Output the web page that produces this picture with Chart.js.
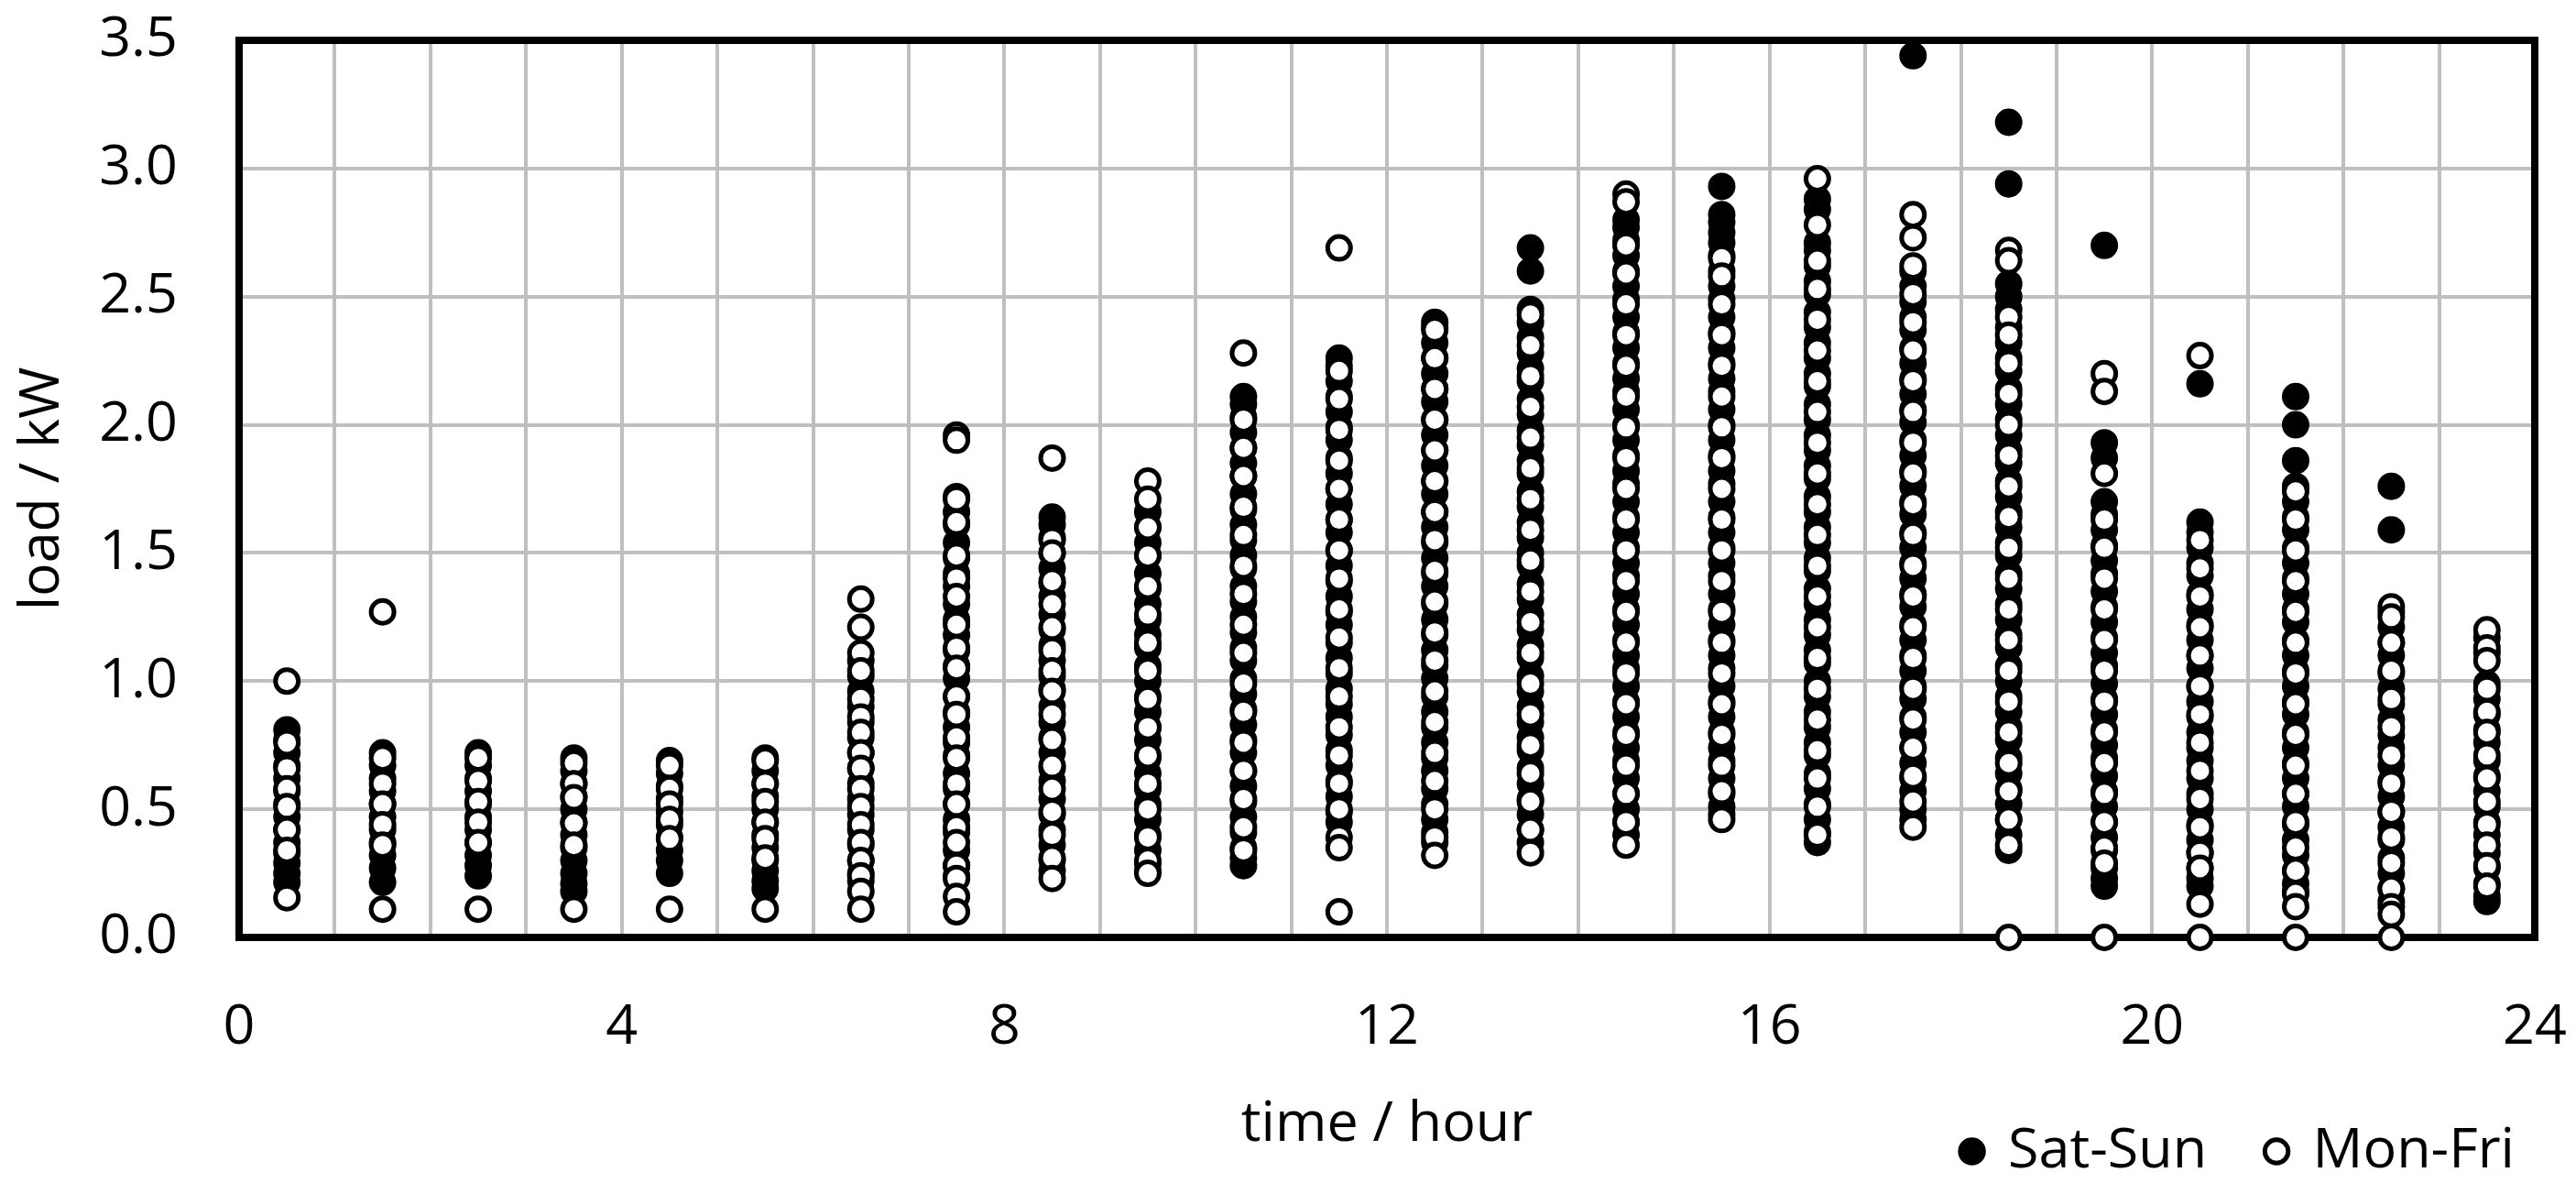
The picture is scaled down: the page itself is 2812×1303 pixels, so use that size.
<!DOCTYPE html>
<html>
<head>
<meta charset="utf-8">
<script src="https://cdn.jsdelivr.net/npm/chart.js@4.4.1/dist/chart.umd.min.js"></script>
<style>
  html, body { margin: 0; padding: 0; background: #fff; }
</style>
</head>
<body>
<canvas id="graficoCarga" width="2812" height="1303"></canvas>
<script>
// horas (centro de cada intervalo) e rótulos dos eixos
const horas = [0.5, 1.5, 2.5, 3.5, 4.5, 5.5, 6.5, 7.5, 8.5, 9.5, 10.5, 11.5,
               12.5, 13.5, 14.5, 15.5, 16.5, 17.5, 18.5, 19.5, 20.5, 21.5, 22.5, 23.5];
const xTickLabels = [0, 4, 8, 12, 16, 20, 24];
const yTickLabels = ["0.0", "0.5", "1.0", "1.5", "2.0", "2.5", "3.0", "3.5"];

// Mon-Fri (círculos abertos), uma lista por hora
const cargaSemana = [
  [1.00, 0.76, 0.66, 0.58, 0.51, 0.42, 0.34, 0.155],
  [1.27, 0.70, 0.60, 0.52, 0.44, 0.36, 0.11],
  [0.70, 0.61, 0.53, 0.45, 0.37, 0.11],
  [0.68, 0.60, 0.545, 0.445, 0.36, 0.11],
  [0.67, 0.58, 0.52, 0.46, 0.385, 0.11],
  [0.69, 0.60, 0.53, 0.45, 0.385, 0.31, 0.11],
  [1.32, 1.21, 1.11, 1.04, 0.93, 0.86, 0.80, 0.72, 0.66, 0.58, 0.51, 0.44, 0.37, 0.30, 0.24, 0.18, 0.11],
  [1.96, 1.94, 1.71, 1.62, 1.49, 1.40, 1.33, 1.22, 1.13, 1.05, 0.94, 0.87, 0.78, 0.70, 0.60, 0.52, 0.43, 0.37, 0.28, 0.23, 0.16, 0.10],
  [1.87, 1.55, 1.50, 1.39, 1.30, 1.21, 1.12, 1.04, 0.96, 0.87, 0.77, 0.67, 0.58, 0.49, 0.40, 0.31, 0.23],
  [1.78, 1.71, 1.60, 1.49, 1.37, 1.26, 1.15, 1.04, 0.93, 0.82, 0.71, 0.60, 0.50, 0.39, 0.30, 0.25],
  [2.28, 2.02, 1.91, 1.80, 1.68, 1.57, 1.45, 1.34, 1.22, 1.11, 0.99, 0.88, 0.76, 0.65, 0.54, 0.43, 0.34],
  [2.69, 2.21, 2.10, 1.98, 1.86, 1.75, 1.63, 1.51, 1.40, 1.28, 1.17, 1.05, 0.94, 0.82, 0.71, 0.60, 0.50, 0.39, 0.35, 0.10],
  [2.37, 2.26, 2.14, 2.02, 1.90, 1.78, 1.66, 1.55, 1.43, 1.31, 1.19, 1.08, 0.96, 0.84, 0.72, 0.61, 0.50, 0.39, 0.32],
  [2.43, 2.31, 2.19, 2.07, 1.95, 1.83, 1.71, 1.59, 1.47, 1.35, 1.23, 1.11, 0.99, 0.87, 0.75, 0.64, 0.53, 0.42, 0.33],
  [2.90, 2.87, 2.70, 2.59, 2.47, 2.35, 2.23, 2.11, 1.99, 1.87, 1.75, 1.63, 1.51, 1.39, 1.27, 1.15, 1.03, 0.91, 0.79, 0.67, 0.56, 0.45, 0.36],
  [2.65, 2.58, 2.47, 2.35, 2.23, 2.11, 1.99, 1.87, 1.75, 1.63, 1.51, 1.39, 1.27, 1.15, 1.03, 0.91, 0.79, 0.67, 0.57, 0.46],
  [2.96, 2.78, 2.64, 2.53, 2.41, 2.29, 2.17, 2.05, 1.93, 1.81, 1.69, 1.57, 1.45, 1.33, 1.21, 1.09, 0.97, 0.85, 0.73, 0.62, 0.51, 0.40],
  [2.82, 2.73, 2.62, 2.51, 2.40, 2.29, 2.17, 2.05, 1.93, 1.81, 1.69, 1.57, 1.45, 1.33, 1.21, 1.09, 0.97, 0.85, 0.74, 0.63, 0.53, 0.43],
  [2.68, 2.64, 2.42, 2.35, 2.24, 2.12, 2.00, 1.88, 1.76, 1.64, 1.52, 1.40, 1.28, 1.16, 1.04, 0.92, 0.80, 0.68, 0.57, 0.46, 0.36, 0.00],
  [2.20, 2.13, 1.81, 1.63, 1.52, 1.40, 1.28, 1.16, 1.04, 0.92, 0.80, 0.68, 0.56, 0.45, 0.35, 0.29, 0.00],
  [2.27, 1.55, 1.44, 1.33, 1.21, 1.10, 0.98, 0.87, 0.76, 0.65, 0.54, 0.43, 0.33, 0.27, 0.13, 0.00],
  [1.74, 1.63, 1.51, 1.39, 1.27, 1.15, 1.03, 0.91, 0.79, 0.67, 0.56, 0.45, 0.35, 0.26, 0.17, 0.12, 0.00],
  [1.29, 1.25, 1.15, 1.04, 0.93, 0.82, 0.71, 0.60, 0.49, 0.39, 0.29, 0.19, 0.12, 0.09, 0.00],
  [1.20, 1.13, 1.08, 0.97, 0.88, 0.80, 0.71, 0.62, 0.53, 0.44, 0.36, 0.28, 0.20]
];

// Sat-Sun (círculos cheios), uma lista por hora
const cargaFimSemana = [
  [0.81, 0.77, 0.72, 0.67, 0.62, 0.57, 0.52, 0.47, 0.42, 0.37, 0.33, 0.29, 0.25, 0.215],
  [0.72, 0.67, 0.62, 0.57, 0.52, 0.47, 0.42, 0.37, 0.32, 0.27, 0.215],
  [0.72, 0.67, 0.62, 0.57, 0.52, 0.47, 0.42, 0.37, 0.32, 0.28, 0.24],
  [0.70, 0.65, 0.60, 0.55, 0.50, 0.45, 0.40, 0.35, 0.30, 0.25, 0.21, 0.18],
  [0.69, 0.64, 0.59, 0.54, 0.49, 0.44, 0.39, 0.34, 0.30, 0.25],
  [0.70, 0.65, 0.60, 0.55, 0.50, 0.45, 0.40, 0.35, 0.30, 0.26, 0.22, 0.19],
  [1.08, 1.02, 0.96, 0.90, 0.84, 0.78, 0.72, 0.66, 0.60, 0.54, 0.48, 0.42, 0.36, 0.30, 0.25, 0.22],
  [1.72, 1.66, 1.61, 1.54, 1.48, 1.42, 1.37, 1.30, 1.24, 1.18, 1.12, 1.06, 1.01, 0.94, 0.88, 0.82, 0.76, 0.71,
   0.64, 0.58, 0.52, 0.46, 0.41, 0.34, 0.28, 0.24],
  [1.64, 1.61, 1.56, 1.50, 1.44, 1.38, 1.33, 1.26, 1.20, 1.14, 1.08, 1.02, 0.97, 0.90, 0.84, 0.78, 0.72, 0.66,
   0.61, 0.54, 0.48, 0.42, 0.36, 0.30, 0.26],
  [1.66, 1.60, 1.54, 1.49, 1.42, 1.36, 1.30, 1.24, 1.18, 1.13, 1.06, 1.00, 0.94, 0.88, 0.82, 0.77, 0.70, 0.64,
   0.58, 0.52, 0.46, 0.40, 0.34, 0.29, 0.26],
  [2.11, 2.08, 2.03, 1.97, 1.91, 1.85, 1.80, 1.73, 1.67, 1.61, 1.55, 1.49, 1.44, 1.37, 1.31, 1.25, 1.19, 1.13,
   1.08, 1.01, 0.95, 0.89, 0.83, 0.77, 0.72, 0.65, 0.59, 0.53, 0.47, 0.41, 0.35, 0.31, 0.28],
  [2.26, 2.23, 2.17, 2.11, 2.05, 1.99, 1.94, 1.87, 1.81, 1.75, 1.69, 1.63, 1.58, 1.51, 1.45, 1.39, 1.33, 1.27,
   1.22, 1.15, 1.09, 1.03, 0.97, 0.91, 0.86, 0.79, 0.73, 0.67, 0.61, 0.55, 0.49, 0.45],
  [2.40, 2.38, 2.32, 2.26, 2.20, 2.14, 2.09, 2.02, 1.96, 1.90, 1.84, 1.78, 1.73, 1.66, 1.60, 1.54, 1.48, 1.42,
   1.37, 1.30, 1.24, 1.18, 1.12, 1.06, 1.01, 0.94, 0.88, 0.82, 0.76, 0.70, 0.65, 0.58, 0.52, 0.46, 0.41, 0.37],
  [2.69, 2.60, 2.45, 2.40, 2.34, 2.28, 2.22, 2.17, 2.10, 2.04, 1.98, 1.92, 1.86, 1.81, 1.74, 1.68, 1.62, 1.56,
   1.50, 1.45, 1.38, 1.32, 1.26, 1.20, 1.14, 1.09, 1.02, 0.96, 0.90, 0.84, 0.78, 0.73, 0.66, 0.60, 0.54, 0.48,
   0.42, 0.37],
  [2.80, 2.77, 2.72, 2.66, 2.60, 2.54, 2.49, 2.42, 2.36, 2.30, 2.24, 2.18, 2.13, 2.06, 2.00, 1.94, 1.88, 1.82,
   1.77, 1.70, 1.64, 1.58, 1.52, 1.46, 1.41, 1.34, 1.28, 1.22, 1.16, 1.10, 1.05, 0.98, 0.92, 0.86, 0.80, 0.74,
   0.69, 0.62, 0.56, 0.50, 0.45, 0.40],
  [2.93, 2.82, 2.79, 2.75, 2.71, 2.66, 2.60, 2.54, 2.49, 2.42, 2.36, 2.30, 2.24, 2.18, 2.13, 2.06, 2.00, 1.94,
   1.88, 1.82, 1.77, 1.70, 1.64, 1.58, 1.52, 1.46, 1.41, 1.34, 1.28, 1.22, 1.16, 1.10, 1.05, 0.98, 0.92, 0.86,
   0.80, 0.74, 0.69, 0.62, 0.56, 0.51, 0.48],
  [2.88, 2.84, 2.71, 2.68, 2.62, 2.56, 2.51, 2.44, 2.38, 2.32, 2.26, 2.20, 2.15, 2.08, 2.02, 1.96, 1.90, 1.84,
   1.79, 1.72, 1.66, 1.60, 1.54, 1.48, 1.43, 1.36, 1.30, 1.24, 1.18, 1.12, 1.07, 1.00, 0.94, 0.88, 0.82, 0.76,
   0.71, 0.64, 0.58, 0.52, 0.46, 0.41, 0.37],
  [3.44, 2.60, 2.54, 2.48, 2.42, 2.37, 2.30, 2.24, 2.18, 2.12, 2.06, 2.01, 1.94, 1.88, 1.82, 1.76, 1.70, 1.65,
   1.58, 1.52, 1.46, 1.40, 1.34, 1.29, 1.22, 1.16, 1.10, 1.04, 0.98, 0.93, 0.86, 0.80, 0.74, 0.68, 0.62, 0.57,
   0.50, 0.46],
  [3.18, 2.94, 2.55, 2.50, 2.45, 2.38, 2.32, 2.26, 2.21, 2.14, 2.08, 2.02, 1.96, 1.90, 1.85, 1.78, 1.72, 1.66,
   1.60, 1.54, 1.49, 1.42, 1.36, 1.30, 1.24, 1.18, 1.13, 1.06, 1.00, 0.94, 0.88, 0.82, 0.77, 0.70, 0.64, 0.58,
   0.52, 0.46, 0.40, 0.34],
  [2.70, 1.93, 1.87, 1.70, 1.65, 1.59, 1.53, 1.47, 1.42, 1.35, 1.29, 1.23, 1.17, 1.11, 1.06, 0.99, 0.93, 0.87,
   0.81, 0.75, 0.70, 0.63, 0.57, 0.51, 0.45, 0.39, 0.34, 0.27, 0.23, 0.20],
  [2.16, 1.62, 1.58, 1.52, 1.46, 1.41, 1.34, 1.28, 1.22, 1.16, 1.10, 1.05, 0.98, 0.92, 0.86, 0.80, 0.74, 0.69,
   0.62, 0.56, 0.50, 0.44, 0.38, 0.33, 0.27, 0.23, 0.20],
  [2.11, 2.00, 1.86, 1.76, 1.70, 1.64, 1.59, 1.52, 1.46, 1.40, 1.34, 1.28, 1.23, 1.16, 1.10, 1.04, 0.98, 0.92,
   0.87, 0.80, 0.74, 0.68, 0.62, 0.56, 0.51, 0.44, 0.38, 0.32, 0.26, 0.21, 0.18],
  [1.76, 1.59, 1.27, 1.21, 1.15, 1.10, 1.03, 0.97, 0.91, 0.85, 0.79, 0.74, 0.67, 0.61, 0.55, 0.49, 0.43, 0.38,
   0.31, 0.25, 0.19, 0.14],
  [1.17, 1.11, 0.99, 0.93, 0.87, 0.81, 0.76, 0.69, 0.63, 0.57, 0.51, 0.45, 0.40, 0.33, 0.27, 0.21, 0.16, 0.14]
];

function montarPontos(listas) {
    return horas.flatMap((h, i) => listas[i].map(v => ({ x: h, y: v })));
}

const FONTE = "'Open Sans', 'DejaVu Sans', sans-serif";
const COR_GRADE = "#BFBFBF";

Chart.defaults.font.family = FONTE;
Chart.defaults.color = "#000";

// moldura preta em volta da área do gráfico (desenhada antes dos pontos)
const molduraPlugin = {
    id: "moldura",
    beforeDatasetsDraw(chart) {
        const { ctx, chartArea: a } = chart;
        ctx.save();
        ctx.strokeStyle = "#000";
        ctx.lineWidth = 8;
        ctx.strokeRect(a.left, a.top, a.right - a.left, a.bottom - a.top);
        ctx.restore();
    }
};

const ctx = document.getElementById("graficoCarga");

new Chart(ctx, {
    type: "scatter",
    data: {
        datasets: [
            {
                // primeiro dataset fica por cima dos outros
                label: "Mon-Fri",
                data: montarPontos(cargaSemana),
                pointStyle: "circle",
                pointRadius: 12.5,
                pointHoverRadius: 12.5,
                pointBorderWidth: 5,
                pointBackgroundColor: "#fff",
                pointBorderColor: "#000",
                clip: false
            },
            {
                label: "Sat-Sun",
                data: montarPontos(cargaFimSemana),
                pointStyle: "circle",
                pointRadius: 12.5,
                pointHoverRadius: 12.5,
                pointBorderWidth: 5,
                pointBackgroundColor: "#000",
                pointBorderColor: "#000",
                clip: false
            }
        ]
    },
    options: {
        responsive: false,
        animation: false,
        devicePixelRatio: 1,
        events: [],
        layout: { padding: { top: 44, bottom: 6, left: 0, right: 0 } },
        plugins: {
            tooltip: { enabled: false },
            legend: {
                position: "bottom",
                align: "end",
                labels: {
                    usePointStyle: true,
                    boxWidth: 18,
                    boxHeight: 18,
                    padding: 67,
                    color: "#000",
                    font: { size: 61, family: FONTE },
                    sort: (a, b) => b.datasetIndex - a.datasetIndex
                }
            }
        },
        scales: {
            x: {
                type: "linear",
                min: 0,
                max: 24,
                border: { display: false },
                grid: { color: COR_GRADE, lineWidth: 4, drawTicks: false },
                ticks: {
                    stepSize: 1,
                    autoSkip: false,
                    maxRotation: 0,
                    padding: 62,
                    font: { size: 61, family: FONTE, lineHeight: 1.2 },
                    color: "#000",
                    callback: v => xTickLabels.includes(v) ? String(v) : ""
                },
                title: {
                    display: true,
                    text: "time / hour",
                    color: "#000",
                    font: { size: 61, family: FONTE, lineHeight: 1.2 },
                    padding: { top: 34, bottom: -105 }
                },
                afterFit(scale) {
                    scale.paddingRight = 45;
                    scale.height = 136;
                }
            },
            y: {
                min: 0,
                max: 3.5,
                border: { display: false },
                grid: { color: COR_GRADE, lineWidth: 4, drawTicks: false },
                ticks: {
                    stepSize: 0.5,
                    padding: 67,
                    font: { size: 61, family: FONTE, lineHeight: 1.2 },
                    color: "#000",
                    callback: v => yTickLabels[Math.round(v / 0.5)]
                },
                title: {
                    display: true,
                    text: "load / kW",
                    color: "#000",
                    font: { size: 61, family: FONTE, lineHeight: 1.2 },
                    padding: { top: 10, bottom: 0 }
                },
                afterFit(scale) {
                    scale.width = 261;
                    // sem folga extra em cima/baixo: a área começa no padding do layout
                    scale.paddingTop = 0;
                    scale.paddingBottom = 0;
                }
            }
        }
    },
    plugins: [molduraPlugin]
});
</script>
</body>
</html>
